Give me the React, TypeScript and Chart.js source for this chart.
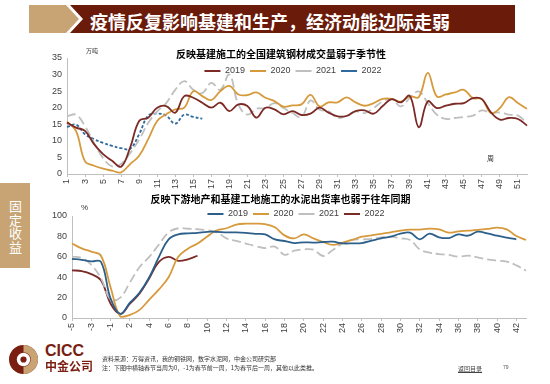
import React, { useEffect, useRef } from "react";
import { Chart, registerables } from "chart.js";
Chart.register(...registerables);

const FONT = "'Liberation Sans', Arial, sans-serif";
const CJK = "'Noto Sans CJK SC', sans-serif";

// ---------- Top chart: steel trading volume (万吨), weeks 1..52 ----------
const weeksTop = ["1","2","3","4","5","6","7","8","9","10","11","12","13","14","15","16","17","18","19","20","21","22","23","24","25","26","27","28","29","30","31","32","33","34","35","36","37","38","39","40","41","42","43","44","45","46","47","48","49","50","51","52"];
const steel2019 = [15.5,14,13,9,6,4,2.2,8,16,17,20,20.5,18.5,23.5,23,21.5,20,21.5,19,21,20.5,17,20,19.5,18,19,17.8,18.2,20,18.5,17.4,17.5,19,19.2,18.2,20.5,22.6,21.6,23.6,14.1,21.9,19.9,20.6,21.2,21.4,22.9,22.6,18.6,16.4,16.9,16.6,14.6];
const steel2020 = [15.8,13,3.8,2.5,1.6,1,0.5,3,5.5,10.5,16,18,19.5,20,25,23.5,22.3,25,26.6,24,23.8,24.6,23,22,20.3,20.7,21,23.9,20.4,21.6,21.6,23.1,21.6,20.6,21.4,22.7,22.7,21.8,23.4,23.2,30.5,23.4,24,24.6,25.4,22.9,22.6,18.4,19.9,23.2,21.4,19.7];
const steel2021 = [17.4,17.9,14.4,9.4,4.8,2.3,3.1,6.3,10.4,15.4,18.9,21.4,25.4,28,25.4,24.4,27.5,25.4,30,20.9,17.9,19.7,19.9,21.4,19.9,18.4,17.2,22.2,19.4,18.9,16.9,17.6,18.9,18.4,19.9,21.9,22.6,20.4,22.9,24.9,21.4,17.9,16.6,16.9,17.2,17.6,19.2,18.4,18.6,17.9,17.6,15.4];
const steel2022 = [14.2,14.9,12,10.5,9.4,8.5,7.8,7.6,12,17.6,18.2,17.6,15.2,17.9,17.2,16.7];

// ---------- Bottom chart: cement shipment rate (%), weeks relative to Spring Festival ----------
const weeksBottom = ["-5","-4","-3","-2","-1","1","2","3","4","5","6","7","8","9","10","11","12","13","14","15","16","17","18","19","20","21","22","23","24","25","26","27","28","29","30","31","32","33","34","35","36","37","38","39","40","41","42","43"];
const cement2019 = [58,57,55.5,55,19,4,15,25,40,60,77,82,83,83.5,84.5,84.5,84,84,83.5,82.5,82,77,75.5,73.5,74.2,73.9,74.5,74.8,73.2,73.2,73.5,75.8,78.1,79.7,82.7,83.7,77.1,82.7,79.1,78.4,82,80.7,84.6,83,80.7,78.8,77.1,null];
const cement2020 = [73,68.3,65,61,30,1.5,3,8,18,28,40,60,68,73,80,86,88,91.5,92.5,92.5,92,89,81,78,82,78,74.5,71.6,73.9,76.5,79.7,81,82.4,84,85.6,86.6,86.6,87.6,86.9,83.7,85,85.6,86.3,87.3,88.6,86.9,80.4,76.5];
const cement2021 = [60,59,52,39,18,20,35,50,60,72,84,88,87.5,87,86,84,78,75.5,73,70.5,68.5,70,62,66,67.3,67,60.8,66.7,73.2,76.5,77.1,77.5,79.1,79.7,78.1,76.5,67.3,64.1,62.7,61.8,60.1,61.1,59.5,57.5,56.2,55.2,51.6,46.4];
const cement2022 = [46.7,46,43,37,14,4,14,24,39,55,60,56,57.5,61];

const C_MAROON = "#7B2A26";
const C_ORANGE = "#D69A3C";
const C_GRAY = "#BFBFBF";
const C_BLUE_DOT = "#2F6A9F";
const C_BLUE = "#2C5F8A";
const AXIS = "#BFBFBF";
const TICK = "#404040";

// places the (horizontal) legend over the top of the plot area, as in the original slide
const legendPlace = {
  id: "legendPlace",
  afterLayout(chart: any, _args: any, opts: any) {
    const l = chart.legend;
    const ca = chart.chartArea;
    if (!l || !ca || !opts) return;
    l.left = ca.left + (opts.dx || 0);
    l.right = ca.right + (opts.dx || 0);
    l.width = l.right - l.left;
    l.top = ca.top + (opts.dy || 0);
    l.height = 24;
    l.bottom = l.top + l.height;
  },
};

function line(label: string, data: (number | null)[], color: string, dash: number[], width = 1.8) {
  return {
    label,
    data,
    borderColor: color,
    backgroundColor: color,
    borderWidth: width,
    borderDash: dash,
    pointRadius: 0,
    tension: 0.4,
    fill: false,
  };
}

function buildOptions(p: {
  title: string;
  titlePad: { top: number; bottom: number };
  labels: string[];
  yMax: number;
  yStep: number;
  yWidth: number;
  padRight: number;
  legendDx: number;
  legendDy: number;
}) {
  return {
    responsive: false,
    animation: false as const,
    layout: { padding: { left: 0, right: p.padRight, top: 0, bottom: 0 } },
    plugins: {
      title: {
        display: true,
        text: p.title,
        color: "#000",
        font: { size: 10, weight: "bold" as const, family: CJK, lineHeight: 1.2 },
        padding: p.titlePad,
      },
      legend: {
        position: "top" as const,
        align: "center" as const,
        maxHeight: 1,
        labels: {
          usePointStyle: true,
          pointStyle: "line",
          pointStyleWidth: 16,
          boxHeight: 9,
          padding: 5,
          color: TICK,
          font: { size: 9, family: FONT },
        },
      },
      tooltip: { enabled: false },
      legendPlace: { dx: p.legendDx, dy: p.legendDy },
    },
    scales: {
      x: {
        type: "category" as const,
        offset: false,
        grid: {
          display: true,
          drawOnChartArea: false,
          drawTicks: true,
          tickLength: 3,
          color: (ctx: any) => (ctx.index % 2 === 0 ? AXIS : "rgba(0,0,0,0)"),
        },
        border: { display: true, color: AXIS, width: 1 },
        ticks: {
          autoSkip: false,
          maxRotation: 90,
          minRotation: 90,
          padding: 2,
          color: TICK,
          font: { size: 9, family: FONT },
          callback: (_v: any, i: number) => (i % 2 === 0 ? p.labels[i] : ""),
        },
        afterFit: (s: any) => {
          s.height = 20;
        },
      },
      y: {
        min: 0,
        max: p.yMax,
        grid: { display: false, drawTicks: false },
        border: { display: true, color: AXIS, width: 1 },
        ticks: { stepSize: p.yStep, padding: 5, color: TICK, font: { size: 9, family: FONT } },
        afterFit: (s: any) => {
          s.width = p.yWidth;
        },
      },
    },
  };
}

function TopChart() {
  const ref = useRef<HTMLCanvasElement>(null);
  useEffect(() => {
    if (!ref.current) return;
    const chart = new Chart(ref.current, {
      type: "line",
      data: {
        labels: weeksTop,
        datasets: [
          line("2019", steel2019, C_MAROON, []),
          line("2020", steel2020, C_ORANGE, []),
          line("2021", steel2021, C_GRAY, [9, 4]),
          line("2022", steel2022, C_BLUE_DOT, [3, 2]),
        ],
      },
      options: buildOptions({
        title: "反映基建施工的全国建筑钢材成交量弱于季节性",
        titlePad: { top: 8, bottom: -3 },
        labels: weeksTop,
        yMax: 35,
        yStep: 5,
        yWidth: 32,
        padRight: 24,
        legendDx: -4,
        legendDy: 3.5,
      }) as any,
      plugins: [legendPlace],
    });
    return () => chart.destroy();
  }, []);
  return <canvas ref={ref} width={516} height={154} style={{ position: "absolute", left: 35, top: 40 }} />;
}

function BottomChart() {
  const ref = useRef<HTMLCanvasElement>(null);
  useEffect(() => {
    if (!ref.current) return;
    const chart = new Chart(ref.current, {
      type: "line",
      data: {
        labels: weeksBottom,
        datasets: [
          line("2019", cement2019, C_BLUE, []),
          line("2020", cement2020, C_ORANGE, []),
          line("2021", cement2021, C_GRAY, [9, 4]),
          line("2022", cement2022, C_MAROON, []),
        ],
      },
      options: buildOptions({
        title: "反映下游地产和基建工地施工的水泥出货率也弱于往年同期",
        titlePad: { top: 5, bottom: 10 },
        labels: weeksBottom,
        yMax: 100,
        yStep: 10,
        yWidth: 37,
        padRight: 23,
        legendDx: -3,
        legendDy: -11.5,
      }) as any,
      plugins: [legendPlace],
    });
    return () => chart.destroy();
  }, []);
  return <canvas ref={ref} width={514} height={150} style={{ position: "absolute", left: 35, top: 188 }} />;
}

const abs = (s: React.CSSProperties): React.CSSProperties => ({ position: "absolute", ...s });

const tabChars = ["固", "定", "收", "益"];

export default function App() {
  return (
    <div
      style={{
        position: "fixed",
        left: 0,
        top: 0,
        width: 550,
        height: 384,
        background: "#fff",
        overflow: "hidden",
        fontFamily: CJK,
      }}
    >
      {/* header */}
      <div
        style={abs({
          left: 29,
          top: 5,
          width: 50,
          height: 28,
          background: "#C8A475",
          clipPath: "polygon(0 0, 37px 0, 50px 14px, 37px 28px, 0 28px)",
        })}
      />
      <div
        style={abs({
          left: 70,
          top: 5,
          width: 445,
          height: 28,
          background: "#6A1B0A",
          clipPath: "polygon(0 0, 445px 0, 445px 28px, 0 28px, 13px 14px)",
        })}
      />
      <div
        style={abs({
          left: 90,
          top: 8,
          height: 26,
          lineHeight: "26px",
          color: "#fff",
          fontSize: 18,
          fontWeight: 700,
          whiteSpace: "nowrap",
        })}
      >
        疫情反复影响基建和生产，经济动能边际走弱
      </div>

      {/* side tab */}
      <div style={abs({ left: 0, top: 183, width: 30, height: 85, background: "#C8A475" })} />
      {tabChars.map((c, i) => (
        <div
          key={i}
          style={abs({
            left: 0,
            width: 31,
            top: 199 + i * 13.5,
            height: 14,
            lineHeight: "14px",
            textAlign: "center",
            color: "#fff",
            fontSize: 13,
          })}
        >
          {c}
        </div>
      ))}

      <TopChart />
      <BottomChart />

      {/* axis units */}
      <div style={abs({ left: 86, top: 46, fontSize: 6, color: "#333", whiteSpace: "nowrap" })}>万吨</div>
      <div style={abs({ left: 487, top: 153, fontSize: 7, color: "#333" })}>周</div>
      <div style={abs({ left: 81, top: 203, fontSize: 8, color: "#333", fontFamily: FONT })}>%</div>

      {/* footer */}
      <svg style={abs({ left: 9, top: 345 })} width={29} height={29} viewBox="0 0 28 28">
        <circle cx={14} cy={14} r={14} fill="#7A1E12" />
        <path d="M14 0 A14 14 0 0 1 28 14 A14 14 0 0 1 14 28 L14 21 A7 7 0 0 0 21 14 A7 7 0 0 0 14 7 Z" fill="#C8A475" />
        <circle cx={14} cy={14} r={6.5} fill="#fff" />
        <circle cx={14} cy={14} r={3} fill="#7A1E12" />
      </svg>
      <div
        style={abs({
          left: 45,
          top: 342,
          fontSize: 16,
          fontWeight: 700,
          color: "#7A1E12",
          fontFamily: FONT,
          lineHeight: "18px",
        })}
      >
        CICC
      </div>
      <div
        style={abs({
          left: 45,
          top: 358,
          fontSize: 12,
          fontWeight: 700,
          color: "#7A1E12",
          lineHeight: "16px",
          whiteSpace: "nowrap",
        })}
      >
        中金公司
      </div>
      <div style={abs({ left: 102, top: 354, fontSize: 6, color: "#333", lineHeight: "9px", whiteSpace: "nowrap" })}>
        资料来源：万得资讯，我的钢铁网，数字水泥网，中金公司研究部
        <br />
        注：下图中横轴春节当周为0，-1为春节前一周，1为春节后一周，其他以此类推。
      </div>
      <div
        style={abs({
          left: 458,
          top: 364,
          fontSize: 6,
          color: "#444",
          textDecoration: "underline",
          whiteSpace: "nowrap",
        })}
      >
        返回目录
      </div>
      <div style={abs({ left: 503, top: 364, fontSize: 5, color: "#555", fontFamily: FONT })}>79</div>
    </div>
  );
}
